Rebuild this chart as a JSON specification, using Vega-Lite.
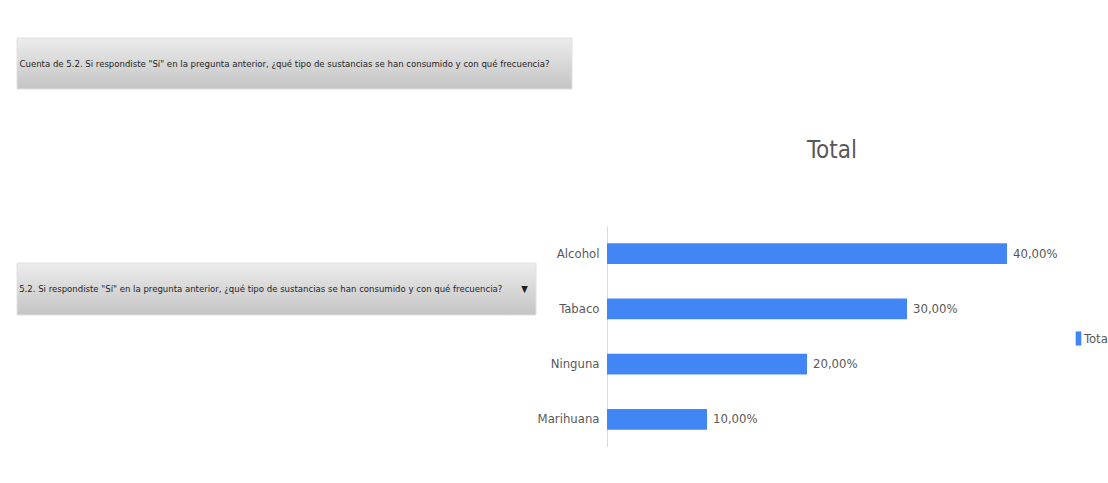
{
  "$schema": "https://vega.github.io/schema/vega-lite/v6.json",
  "padding": {"left": 16, "top": 37, "right": 0, "bottom": 0},
  "background": "white",
  "config": {
    "locale": {"number": {"decimal": ",", "thousands": ".", "grouping": [3], "currency": ["", " €"]}},
    "font": "DejaVu Sans Condensed, Liberation Sans, sans-serif",
    "view": {"stroke": null}
  },
  "spacing": 49,
  "resolve": {"legend": {"color": "independent"}},
  "vconcat": [
    {
      "width": 555,
      "height": 51,
      "data": {"values": [{"boton": "Cuenta de 5.2. Si respondiste \"Sí\" en la pregunta anterior, ¿qué tipo de sustancias se han consumido y con qué frecuencia?"}]},
      "layer": [
        {
          "mark": {"type": "rect", "fill": {"gradient": "linear", "x1": 0, "y1": 0, "x2": 0, "y2": 1, "stops": [{"offset": 0, "color": "#ececec"}, {"offset": 1, "color": "#c4c4c4"}]}, "stroke": "#e0e0e0", "strokeWidth": 1},
          "encoding": {}
        },
        {
          "mark": {"type": "text", "font": "DejaVu Sans Condensed, Liberation Sans, sans-serif", "fontSize": 9.5, "color": "#1f1f1f", "dx": -10},
          "encoding": {"text": {"field": "boton", "type": "nominal"}}
        }
      ]
    },
    {
      "spacing": 0,
      "resolve": {"legend": {"color": "independent"}},
      "hconcat": [
        {
          "width": 519,
          "height": 89,
          "data": {"values": [{"boton": "5.2. Si respondiste \"Sí\" en la pregunta anterior, ¿qué tipo de sustancias se han consumido y con qué frecuencia?\u00a0\u00a0\u00a0\u00a0\u00a0\u00a0\u00a0▼"}]},
          "encoding": {
            "y": {"field": "boton", "type": "nominal", "axis": null, "scale": {"paddingInner": 0, "paddingOuter": 0.3558, "align": 1}}
          },
          "layer": [
            {
              "mark": {"type": "rect", "fill": {"gradient": "linear", "x1": 0, "y1": 0, "x2": 0, "y2": 1, "stops": [{"offset": 0, "color": "#ececec"}, {"offset": 1, "color": "#c4c4c4"}]}, "stroke": "#e0e0e0", "strokeWidth": 1}
            },
            {
              "mark": {"type": "text", "font": "DejaVu Sans Condensed, Liberation Sans, sans-serif", "fontSize": 9.5, "color": "#1f1f1f", "dx": -3},
              "encoding": {"text": {"field": "boton", "type": "nominal"}}
            }
          ]
        },
        {
          "width": 450,
          "height": 221,
          "title": {"text": "Total", "fontSize": 24, "font": "DejaVu Sans Condensed, Liberation Sans, sans-serif", "fontWeight": "normal", "color": "#595959", "offset": 63, "anchor": "middle"},
          "data": {"values": [
            {"sustancia": "Alcohol", "serie": "Total", "porcentaje": 0.4},
            {"sustancia": "Tabaco", "serie": "Total", "porcentaje": 0.3},
            {"sustancia": "Ninguna", "serie": "Total", "porcentaje": 0.2},
            {"sustancia": "Marihuana", "serie": "Total", "porcentaje": 0.1}
          ]},
          "encoding": {
            "y": {
              "field": "sustancia", "type": "nominal",
              "sort": ["Alcohol", "Tabaco", "Ninguna", "Marihuana"],
              "scale": {"paddingInner": 0.62, "paddingOuter": 0.31},
              "axis": {"title": null, "ticks": false, "labelFontSize": 13, "labelFont": "DejaVu Sans Condensed, Liberation Sans, sans-serif", "labelColor": "#595959", "labelPadding": 8, "domainColor": "#d9d9d9", "grid": false}
            },
            "x": {"field": "porcentaje", "type": "quantitative", "scale": {"domain": [0, 0.45]}, "axis": null}
          },
          "layer": [
            {
              "mark": {"type": "bar"},
              "encoding": {
                "color": {
                  "field": "serie", "type": "nominal",
                  "scale": {"range": ["#4285F4"]},
                  "legend": {"orient": "none", "legendX": 464, "legendY": 105, "title": null, "symbolType": "M-0.4,-1H0.4V1H-0.4Z", "symbolSize": 200, "symbolStrokeWidth": 0, "labelFontSize": 13, "labelFont": "DejaVu Sans Condensed, Liberation Sans, sans-serif", "labelColor": "#595959", "labelOffset": -2}
                }
              }
            },
            {
              "mark": {"type": "text", "align": "left", "dx": 6, "fontSize": 13, "font": "DejaVu Sans Condensed, Liberation Sans, sans-serif", "color": "#595959"},
              "encoding": {"text": {"field": "porcentaje", "type": "quantitative", "format": ".2%"}}
            }
          ]
        }
      ]
    }
  ]
}
